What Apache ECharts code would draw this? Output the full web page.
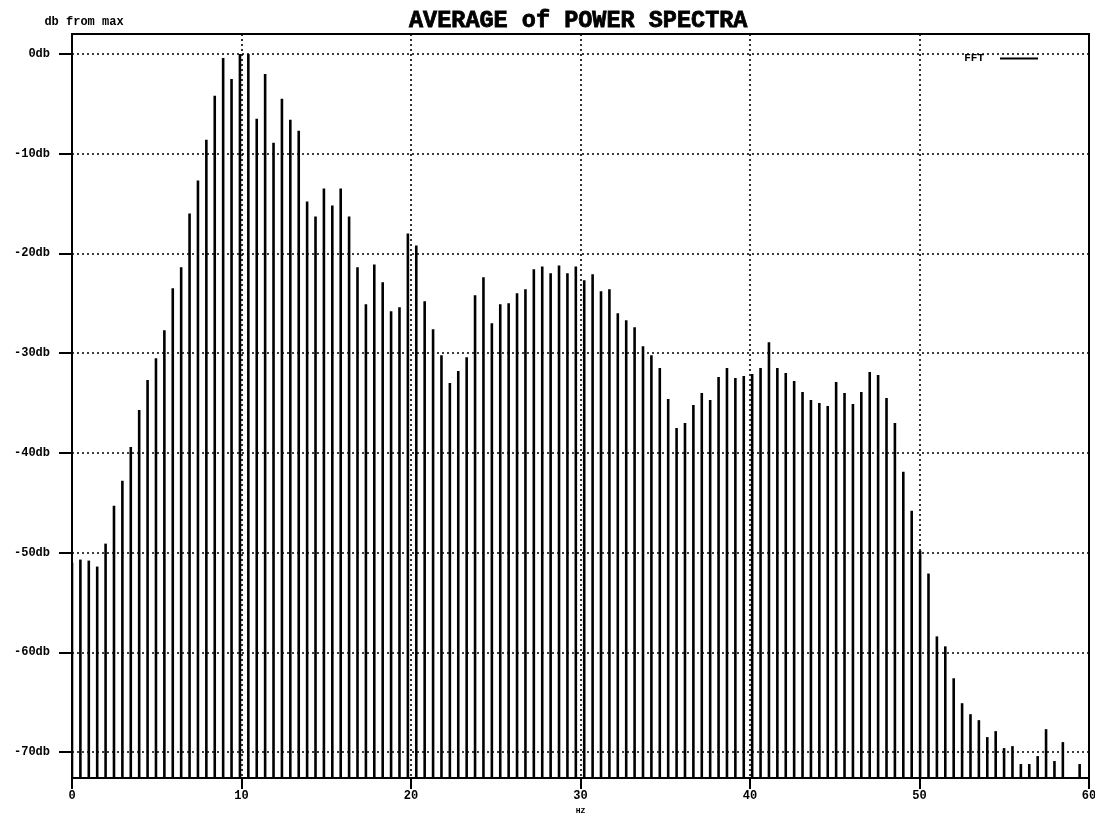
<!DOCTYPE html>
<html>
<head>
<meta charset="utf-8">
<title>AVERAGE of POWER SPECTRA</title>
<script src="https://cdn.jsdelivr.net/npm/echarts@6/dist/echarts.min.js"></script>
<style>
  html, body { margin: 0; padding: 0; background: #fff; }
  #chart { width: 1095px; height: 813px; }
</style>
</head>
<body>
<div id="chart"></div>
<script>
// FFT bin spacing in Hz; bin k sits at k * binHz
const binHz = 0.4954;

// Averaged spectrum level per bin, dB relative to the strongest bin (null = below floor)
const fftDb = [
  -51.0, -50.7, -50.8, -51.4, -49.1, -45.3, -42.8, -39.4, -35.7, -32.7,
  -30.5, -27.7, -23.5, -21.4, -16.0, -12.7,  -8.6,  -4.2,  -0.4,  -2.5,
    0.0,   0.0,  -6.5,  -2.0,  -8.9,  -4.5,  -6.6,  -7.7, -14.8, -16.3,
  -13.5, -15.2, -13.5, -16.3, -21.4, -25.1, -21.1, -22.9, -25.8, -25.4,
  -18.0, -19.2, -24.8, -27.6, -30.2, -33.0, -31.8, -30.4, -24.2, -22.4,
  -27.0, -25.1, -25.0, -24.0, -23.6, -21.6, -21.3, -22.0, -21.2, -22.0,
  -21.3, -22.7, -22.1, -23.8, -23.6, -26.0, -26.7, -27.4, -29.3, -30.2,
  -31.5, -34.6, -37.5, -37.0, -35.2, -34.0, -34.7, -32.4, -31.5, -32.5,
  -32.3, -32.1, -31.5, -28.9, -31.5, -32.0, -32.8, -33.9, -34.7, -35.0,
  -35.3, -32.9, -34.0, -35.1, -33.9, -31.9, -32.2, -34.5, -37.0, -41.9,
  -45.8, -49.8, -52.1, -58.4, -59.4, -62.6, -65.1, -66.2, -66.8, -68.5,
  -67.9, -69.6, -69.4, -71.2, -71.2, -70.4, -67.7, -70.9, -69.0,  null,
  -71.2
];

// Axis tick values
const dbTicks = [-70, -60, -50, -40, -30, -20, -10, 0];
const hzTicks = [0, 10, 20, 30, 40, 50, 60];

const dbFloor = -72.6;
const dbTop = 2.0;

const lineData = [];
fftDb.forEach(function (v, k) {
  if (v !== null) lineData.push([k * binHz, v]);
});

const monoFont = '"Liberation Mono", "DejaVu Sans Mono", monospace';

const chart = echarts.init(document.getElementById('chart'), null, { renderer: 'canvas' });

chart.setOption({
  backgroundColor: '#ffffff',
  animation: false,
  title: {
    text: 'AVERAGE of POWER SPECTRA',
    left: 404,
    top: 4,
    textStyle: {
      fontFamily: monoFont,
      fontWeight: 'bold',
      fontSize: 23.5,
      color: '#000',
      textBorderColor: '#000',
      textBorderWidth: 0.8
    }
  },
  legend: {
    data: ['FFT'],
    right: 52,
    top: 48,
    align: 'right',
    icon: 'rect',
    itemWidth: 38,
    itemHeight: 2,
    textStyle: {
      fontFamily: monoFont,
      fontWeight: 'bold',
      fontSize: 11,
      color: '#000',
      padding: [0, 11, 0, 0]
    }
  },
  grid: {
    left: 72,
    right: 6,
    top: 34,
    bottom: 35,
    containLabel: false,
    outerBoundsMode: 'none',
    show: true,
    borderColor: '#000',
    borderWidth: 2
  },
  xAxis: {
    type: 'value',
    min: hzTicks[0],
    max: hzTicks[hzTicks.length - 1],
    interval: 10,
    name: 'HZ',
    nameLocation: 'middle',
    nameGap: 23,
    nameTextStyle: {
      fontFamily: monoFont,
      fontWeight: 'bold',
      fontSize: 8,
      color: '#000'
    },
    axisLine: { show: true, onZero: false, lineStyle: { color: '#000', width: 2 } },
    axisTick: { show: true, length: 11, lineStyle: { color: '#000', width: 2 } },
    axisLabel: {
      margin: 12,
      fontFamily: monoFont,
      fontWeight: 'bold',
      fontSize: 12,
      color: '#000',
      customValues: hzTicks
    },
    splitLine: {
      show: true,
      lineStyle: { color: '#000', width: 1.6, type: [2, 3] }
    }
  },
  yAxis: {
    type: 'value',
    min: dbFloor,
    max: dbTop,
    name: 'db from max',
    nameLocation: 'end',
    nameGap: 6,
    nameTextStyle: {
      fontFamily: monoFont,
      fontWeight: 'bold',
      fontSize: 12,
      color: '#000',
      align: 'center',
      padding: [0, 0, 0, 24]
    },
    axisLine: { show: true, lineStyle: { color: '#000', width: 2 } },
    axisTick: {
      show: true,
      length: 13,
      lineStyle: { color: '#000', width: 2 },
      customValues: dbTicks
    },
    axisLabel: {
      margin: 22,
      fontFamily: monoFont,
      fontWeight: 'bold',
      fontSize: 12,
      color: '#000',
      customValues: dbTicks,
      formatter: function (v) { return v + 'db'; }
    },
    splitLine: {
      show: true,
      lineStyle: { color: '#000', width: 1.6, type: [2, 3] }
    }
  },
  series: [{
    name: 'FFT',
    type: 'custom',
    itemStyle: { color: '#000' },
    clip: true,
    data: lineData,
    renderItem: function (params, api) {
      const hz = api.value(0);
      const db = api.value(1);
      const top = api.coord([hz, db]);
      const base = api.coord([hz, dbFloor]);
      return {
        type: 'line',
        shape: { x1: top[0], y1: top[1], x2: base[0], y2: base[1] },
        style: { stroke: '#000', lineWidth: 2.6 }
      };
    }
  }]
});
</script>
</body>
</html>
